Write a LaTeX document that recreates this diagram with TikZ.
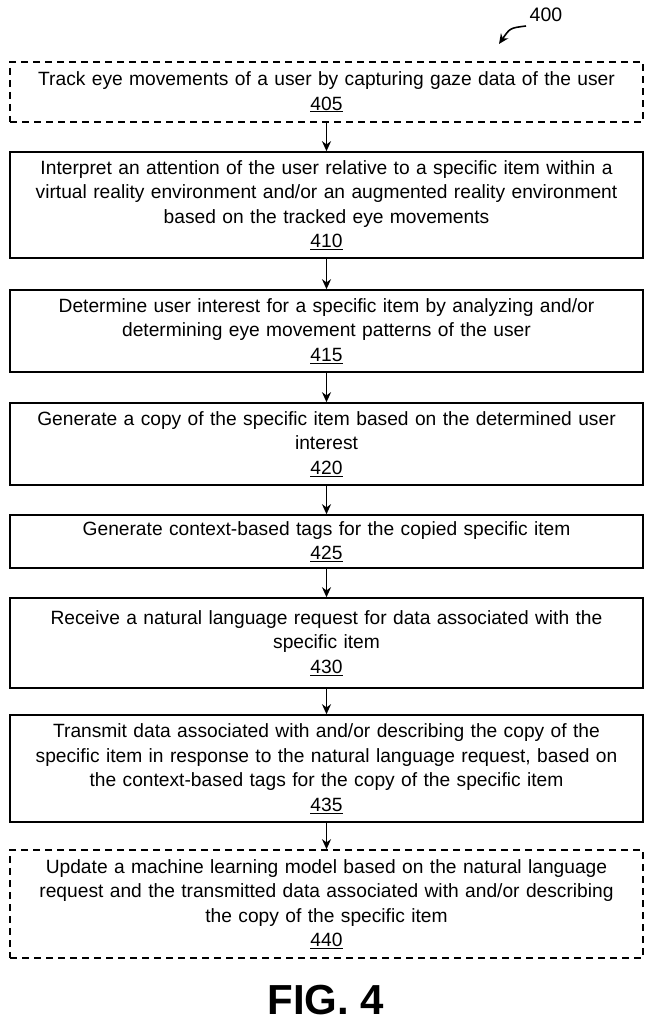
\documentclass[tikz,border=0pt]{standalone}
\usepackage{fontspec}
\setmainfont{Liberation Sans}
\usetikzlibrary{arrows.meta}
\tikzset{
  stepbox/.style = {draw, line width = 1.6pt, minimum width = 633pt, text width = 625pt, align = center,
    font = \fontsize{19.2}{24.5}\selectfont, inner sep = 2pt},
  optbox/.style = {stepbox, dash pattern = on 7pt off 5pt},
  flow/.style = {-{Stealth[length=10pt,width=9pt]}, line width = 1.6pt},
}
\begin{document}
\begin{tikzpicture}[x=1pt, y=-1pt]
	\useasboundingbox (0,0) rectangle (652,1024);
	% steps
	\node[optbox, minimum height = 60pt] (s405) at (326.5,92) {Track eye movements of a user by capturing gaze data of the user\\\underline{405}};
	\node[stepbox, minimum height = 106pt] (s410) at (326.5,205) {Interpret an attention of the user relative to a specific item within a\\virtual reality environment and/or an augmented reality environment\\based on the tracked eye movements\\\underline{410}};
	\node[stepbox, minimum height = 82pt] (s415) at (326.5,331) {Determine user interest for a specific item by analyzing and/or\\determining eye movement patterns of the user\\\underline{415}};
	\node[stepbox, minimum height = 82pt] (s420) at (326.5,444) {Generate a copy of the specific item based on the determined user\\interest\\\underline{420}};
	\node[stepbox, minimum height = 53pt] (s425) at (326.5,541.5) {Generate context-based tags for the copied specific item\\\underline{425}};
	\node[stepbox, minimum height = 90pt] (s430) at (326.5,643) {Receive a natural language request for data associated with the\\specific item\\\underline{430}};
	\node[stepbox, minimum height = 107pt] (s435) at (326.5,768.5) {Transmit data associated with and/or describing the copy of the\\specific item in response to the natural language request, based on\\the context-based tags for the copy of the specific item\\\underline{435}};
	\node[optbox, minimum height = 108pt] (s440) at (326.5,904) {Update a machine learning model based on the natural language\\request and the transmitted data associated with and/or describing\\the copy of the specific item\\\underline{440}};
	
	% arrows
	\foreach \a/\b in {s405/s410, s410/s415, s415/s420, s420/s425, s425/s430, s430/s435, s435/s440} {
		\draw[flow] (\a) -- (\b);
	}
	
	% labels
	\node[font = \fontsize{19.5}{22}\selectfont] (fig) at (546,15) {400};
	\coordinate (tail) at (526,26);
	\coordinate (tip) at (499,44);
	\draw[flow] (tail) .. controls (510,28) .. (tip);
	\node[font = \bfseries\fontsize{42}{46}\selectfont] (cap) at (326,1000) {FIG. 4};
\end{tikzpicture}
\end{document}
